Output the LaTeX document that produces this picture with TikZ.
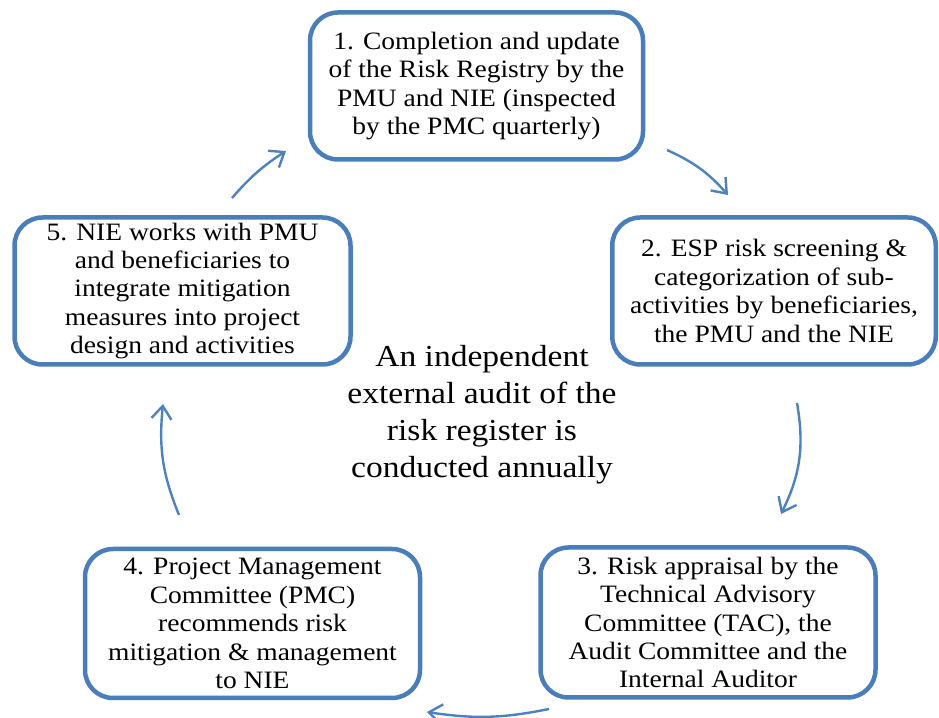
\documentclass[tikz,border=0pt]{standalone}
\usepackage{fontspec}
\setmainfont{Liberation Serif}[FakeStretch=1.1]
\usetikzlibrary{arrows.meta}
\definecolor{boxblue}{RGB}{74,126,187}
\definecolor{arrowblue}{RGB}{79,129,189}
\begin{document}
\begin{tikzpicture}[x=1pt,y=1pt,
  stepbox/.style={draw=boxblue, line width=4.5pt, rounded corners=28pt, fill=white,
    align=center, inner sep=0pt, font=\fontsize{25}{28.4}\selectfont},
  cyclearrow/.style={draw=arrowblue, line width=2.4pt,
    -{Straight Barb[length=13pt,width=20pt,line width=2.4pt]}}]
\useasboundingbox (0,0) rectangle (939,717);
\node[stepbox, minimum width=333pt, minimum height=147pt] (b1) at (476.5,631)
  {1. Completion and update\\of the Risk Registry by the\\PMU and NIE (inspected\\by the PMC quarterly)};
\node[stepbox, minimum width=323.5pt, minimum height=147pt] (b2) at (774,426)
  {2. ESP risk screening \&\\categorization of sub-\\activities by beneficiaries,\\the PMU and the NIE};
\node[stepbox, minimum width=335pt, minimum height=150pt] (b3) at (708,94.5)
  {3. Risk appraisal by the\\Technical Advisory\\Committee (TAC), the\\Audit Committee and the\\Internal Auditor};
\node[stepbox, minimum width=335pt, minimum height=149pt] (b4) at (252.5,93.5)
  {4. Project Management\\Committee (PMC)\\recommends risk\\mitigation \& management\\to NIE};
\node[stepbox, minimum width=336pt, minimum height=147pt] (b5) at (182.5,426)
  {5. NIE works with PMU\\and beneficiaries to\\integrate mitigation\\measures into project\\design and activities};
\node[align=center, inner sep=0pt, font=\fontsize{30.5}{37}\selectfont] (audit) at (482,302)
  {An independent\\external audit of the\\risk register is\\conducted annually};
\coordinate (a1s) at (667,567); \coordinate (a1e) at (728,522);
\coordinate (a2s) at (797,314); \coordinate (a2e) at (781,203);
\coordinate (a3s) at (549,8);   \coordinate (a3e) at (427,5);
\coordinate (a4s) at (179,202); \coordinate (a4e) at (163,313);
\coordinate (a5s) at (232,519); \coordinate (a5e) at (286,566);
\draw[cyclearrow] (a1s) to[bend left=12] (a1e);
\draw[cyclearrow] (a2s) to[bend left=18] (a2e);
\draw[cyclearrow] (a3s) to[bend left=10] (a3e);
\draw[cyclearrow] (a4s) to[bend left=14] (a4e);
\draw[cyclearrow] (a5s) to[bend left=8] (a5e);
\end{tikzpicture}
\end{document}
